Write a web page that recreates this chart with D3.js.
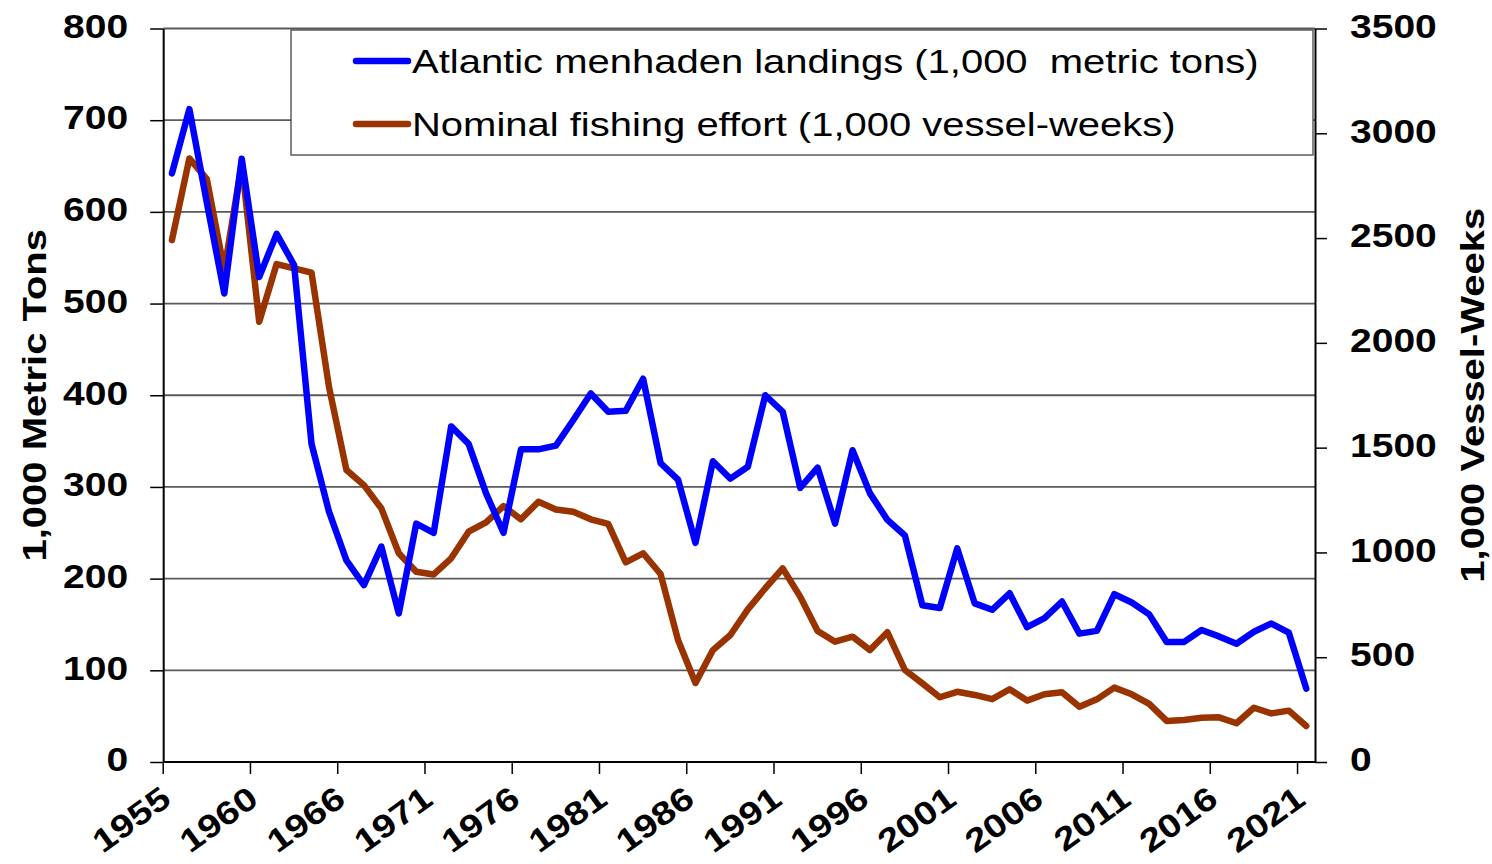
<!DOCTYPE html>
<html>
<head>
<meta charset="utf-8">
<script src="https://cdn.jsdelivr.net/npm/d3@7"></script>
<style>
    body { margin: 0; background: #fff; }
    text { font-family: "Liberation Sans", Arial, sans-serif; fill: #000; white-space: pre; }
</style>
</head>
<body>
<div class="chart-container"></div>
<script>
// one year is missing between 1960 and 1966 in the source sheet (66 categories)
var years = d3.range(1955, 1965).concat(d3.range(1966, 2022)).map(String);
var xTickLabels = ["1955", "1960", "1966", "1971", "1976", "1981", "1986", "1991", "1996", "2001", "2006", "2011", "2016", "2021"];

// 1,000 metric tons (left axis)
var landings = [642, 712, 610, 511, 658, 529, 576, 542, 347, 273,
    220, 193, 235, 162, 260, 250, 366, 347, 293, 250,
    341, 341, 345, 373, 402, 382, 383, 418, 326, 308,
    239, 328, 309, 322, 400, 382, 299, 321, 260, 340,
    293, 264, 247, 171, 168, 233, 173, 166, 184, 147,
    157, 175, 140, 143, 183, 174, 161, 131, 131, 144,
    137, 129, 142, 151, 141, 80];

// 1,000 vessel-weeks (right axis)
var effort = [2490, 2880, 2781, 2347, 2856, 2101, 2376, 2355, 2335, 1790,
    1393, 1321, 1210, 996, 908, 895, 972, 1099, 1143, 1221,
    1158, 1242, 1205, 1194, 1158, 1136, 953, 996, 897, 582,
    377, 534, 606, 728, 829, 924, 789, 625, 574, 598,
    534, 619, 439, 375, 309, 335, 320, 300, 347, 293,
    323, 333, 264, 299, 355, 323, 277, 196, 200, 211,
    213, 185, 259, 232, 245, 172];

var leftTicks = [0, 100, 200, 300, 400, 500, 600, 700, 800];
var rightTicks = [0, 500, 1000, 1500, 2000, 2500, 3000, 3500];

var seriesNames = ["Atlantic menhaden landings (1,000  metric tons)", "Nominal fishing effort (1,000 vessel-weeks)"];
var seriesColors = ["#0000ff", "#993300"];

var chart = {
    draw: function () {
        this.defineComponents();
        this.addGrid();
        this.addAxises();
        this.addLines();
        this.addLegend();
        this.addTitles();
    },
    // glyphs in the reference are ~20% wider than the font's own
    stretch: function (sel, k) {
        k = k || 1.2;
        sel.each(function () {
            var len = this.getComputedTextLength();
            d3.select(this).attr("textLength", len * k).attr("lengthAdjust", "spacingAndGlyphs");
        });
    },
    defineComponents: function () {
        this.left = 163.2;
        this.right = 1315;
        this.top = 28.5;
        this.bottom = 762;

        this.svg = d3.select(".chart-container")
            .append("svg")
            .attr("width", 1492)
            .attr("height", 864);

        this.x = d3.scaleBand()
            .domain(years)
            .range([this.left, this.right])
            .padding(0);

        this.yLeft = d3.scaleLinear()
            .domain([0, 800])
            .range([this.bottom, this.top]);

        this.yRight = d3.scaleLinear()
            .domain([0, 3500])
            .range([this.bottom, this.top]);
    },
    addGrid: function () {
        var that = this;
        this.svg.append("g")
            .selectAll("line")
            .data(leftTicks.slice(1))
            .enter()
            .append("line")
            .attr("x1", this.left)
            .attr("x2", this.right)
            .attr("y1", function (d) { return that.yLeft(d); })
            .attr("y2", function (d) { return that.yLeft(d); })
            .attr("stroke", "#5a5a5a")
            .attr("stroke-width", 1.8);
    },
    addAxises: function () {
        var that = this;

        var yAxisL = d3.axisLeft(this.yLeft).tickValues(leftTicks).tickFormat(d3.format("d"))
            .tickSize(13).tickSizeOuter(0).tickPadding(22);
        var gl = this.svg.append("g")
            .attr("transform", "translate(" + this.left + ",0)")
            .call(yAxisL);

        var yAxisR = d3.axisRight(this.yRight).tickValues(rightTicks).tickFormat(d3.format("d"))
            .tickSize(12).tickSizeOuter(0).tickPadding(23);
        var gr = this.svg.append("g")
            .attr("transform", "translate(" + this.right + ",0)")
            .call(yAxisR);

        [gl, gr].forEach(function (g) {
            g.select(".domain").attr("stroke", "#000").attr("stroke-width", 2);
            g.selectAll(".tick line").attr("stroke", "#000").attr("stroke-width", 1.5);
            g.selectAll(".tick text")
                .attr("dy", "0.27em")
                .style("font-size", "32.5px")
                .style("font-weight", "bold");
            that.stretch(g.selectAll(".tick text"));
        });

        // category axis: ticks between categories, labels every 5th
        var xg = this.svg.append("g");
        xg.append("line")
            .attr("x1", this.left)
            .attr("x2", this.right)
            .attr("y1", this.bottom)
            .attr("y2", this.bottom)
            .attr("stroke", "#000")
            .attr("stroke-width", 2);

        xg.selectAll(".xtick")
            .data(xTickLabels)
            .enter()
            .append("line")
            .attr("x1", function (d) { return that.x(d); })
            .attr("x2", function (d) { return that.x(d); })
            .attr("y1", this.bottom)
            .attr("y2", this.bottom + 12)
            .attr("stroke", "#000")
            .attr("stroke-width", 1.5);

        var labels = xg.selectAll(".xlabel")
            .data(xTickLabels)
            .enter()
            .append("text")
            .attr("text-anchor", "end")
            .attr("transform", function (d) {
                var cx = that.x(d) + that.x.bandwidth() / 2 + 1;
                return "translate(" + cx + "," + (that.bottom + 41) + ") rotate(-36)";
            })
            .style("font-size", "32.5px")
            .style("font-weight", "bold")
            .text(function (d) { return d; });
        this.stretch(labels);
    },
    addLines: function () {
        var that = this;
        var cx = function (i) { return that.x(years[i]) + that.x.bandwidth() / 2; };

        var lineL = d3.line()
            .x(function (d, i) { return cx(i); })
            .y(function (d) { return that.yLeft(d); });

        var lineR = d3.line()
            .x(function (d, i) { return cx(i); })
            .y(function (d) { return that.yRight(d); });

        this.svg.append("path")
            .datum(effort)
            .attr("fill", "none")
            .attr("stroke", seriesColors[1])
            .attr("stroke-width", 6.5)
            .attr("stroke-linejoin", "round")
            .attr("stroke-linecap", "round")
            .attr("d", lineR);

        this.svg.append("path")
            .datum(landings)
            .attr("fill", "none")
            .attr("stroke", seriesColors[0])
            .attr("stroke-width", 6.5)
            .attr("stroke-linejoin", "round")
            .attr("stroke-linecap", "round")
            .attr("d", lineL);
    },
    addLegend: function () {
        var legend = this.svg.append("g");
        legend.append("rect")
            .attr("x", 291)
            .attr("y", 30)
            .attr("width", 1022)
            .attr("height", 125)
            .attr("fill", "#fff")
            .attr("stroke", "#444")
            .attr("stroke-width", 1.3);

        var rows = legend.selectAll(".item")
            .data(seriesNames)
            .enter()
            .append("g")
            .attr("transform", function (d, i) { return "translate(0," + (61 + i * 63) + ")"; });

        rows.append("line")
            .attr("x1", 356)
            .attr("x2", 408)
            .attr("stroke", function (d, i) { return seriesColors[i]; })
            .attr("stroke-width", 6.5)
            .attr("stroke-linecap", "round");

        var txt = rows.append("text")
            .attr("x", 412)
            .attr("dy", "0.36em")
            .style("font-size", "32.5px")
            .text(function (d) { return d; });
        this.stretch(txt, 1.23);
    },
    addTitles: function () {
        var midY = (this.top + this.bottom) / 2;
        var t1 = this.svg.append("text")
            .attr("text-anchor", "middle")
            .attr("transform", "translate(46," + midY + ") rotate(-90)")
            .style("font-size", "32.5px")
            .style("font-weight", "bold")
            .text("1,000 Metric Tons");
        this.stretch(t1, 1.23);

        var t2 = this.svg.append("text")
            .attr("text-anchor", "middle")
            .attr("transform", "translate(1484," + midY + ") rotate(-90)")
            .style("font-size", "32.5px")
            .style("font-weight", "bold")
            .text("1,000 Vessel-Weeks");
        this.stretch(t2, 1.23);
    }
};

chart.draw();
</script>
</body>
</html>
